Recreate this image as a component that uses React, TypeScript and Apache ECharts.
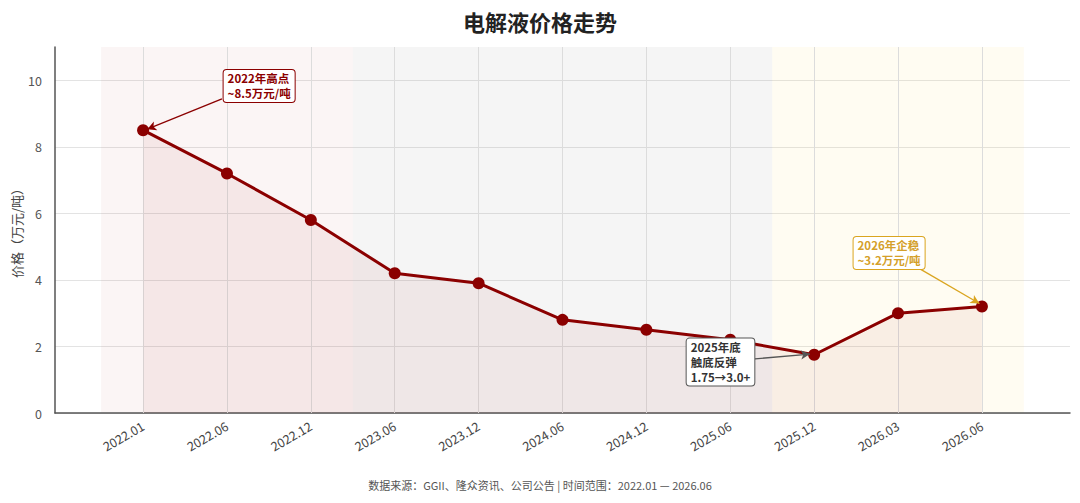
import React, { useEffect, useRef } from "react";
import * as echarts from "echarts";

const categories = ["2022.01", "2022.06", "2022.12", "2023.06", "2023.12", "2024.06", "2024.12", "2025.06", "2025.12", "2026.03", "2026.06"];
const prices = [8.5, 7.2, 5.8, 4.2, 3.9, 2.8, 2.5, 2.2, 1.75, 3.0, 3.2];
const yTicks = [0, 2, 4, 6, 8, 10];
const phases = [
  { from: -0.5, to: 2.5, color: "rgba(190,80,80,0.06)" },
  { from: 2.5, to: 7.5, color: "rgba(120,120,120,0.07)" },
  { from: 7.5, to: 10.5, color: "rgba(250,215,90,0.08)" },
];
const notes = [
  { text: "2022年高点\n~8.5万元/吨", box: [0.96, 9.83], from: [0.94, 9.44], to: [0.05, 8.53], color: "#8B0000", border: "#8B0000", arrow: "#8B0000" },
  { text: "2026年企稳\n~3.2万元/吨", box: [8.47, 4.81], from: [9.24, 4.36], to: [9.97, 3.29], color: "#D4A02A", border: "#DAA520", arrow: "#DAA520" },
  { text: "2025年底\n触底反弹\n1.75→3.0+", box: [6.48, 1.53], from: [7.26, 1.62], to: [7.95, 1.77], color: "#333333", border: "#555555", arrow: "#555555" },
];

export default function App() {
  const ref = useRef<HTMLDivElement>(null);
  useEffect(() => {
    if (!ref.current) return;
    document.body.style.margin = "0";
    const chart = echarts.init(ref.current, null, { renderer: "svg" });
    const font = "'Noto Sans CJK SC', 'Noto Sans', sans-serif";
    chart.setOption({
      animation: false,
      textStyle: { fontFamily: font },
      title: [
        { text: "电解液价格走势", left: "center", top: 5, textStyle: { fontSize: 22, fontWeight: "bold", color: "#222", fontFamily: font } },
        { text: "数据来源：GGII、隆众资讯、公司公告 | 时间范围：2022.01 — 2026.06", left: "center", bottom: 8, textStyle: { fontSize: 11, fontWeight: "normal", color: "#555", fontFamily: font } },
      ],
      grid: { left: 55, right: 10, top: 47, bottom: 90, containLabel: false, outerBoundsMode: "none" },
      xAxis: {
        type: "value",
        min: -1.05,
        max: 11.05,
        axisLine: { show: true, onZero: false, lineStyle: { color: "#555", width: 1.5 } },
        axisTick: { show: false },
        splitLine: { show: false },
        axisLabel: {
          customValues: categories.map((_, i) => i),
          formatter: (v: number) => categories[Math.round(v)] ?? "",
          rotate: 30,
          fontSize: 12.5,
          color: "#444",
          margin: 12,
          fontFamily: font,
        },
      },
      yAxis: {
        type: "value",
        min: 0,
        max: 11,
        interval: 2,
        name: "价格（万元/吨）",
        nameLocation: "middle",
        nameGap: 32,
        nameMoveOverlap: false,
        nameTextStyle: { fontSize: 13, color: "#444", fontFamily: font },
        axisLine: { show: true, onZero: false, lineStyle: { color: "#555", width: 1.5 } },
        axisTick: { show: false },
        axisLabel: {
          customValues: yTicks,
          fontSize: 12.5,
          color: "#555",
          margin: 13,
          fontFamily: font,
        },
        splitLine: { show: true, showMaxLine: false, lineStyle: { color: "#e3e3e3", width: 1 } },
      },
      series: [
        {
          type: "line",
          data: [],
          z: 1,
          silent: true,
          markArea: {
            silent: true,
            z: 0,
            data: phases.map((p) => [{ xAxis: p.from, itemStyle: { color: p.color } }, { xAxis: p.to }]),
          },
          markLine: {
            silent: true,
            z: 1,
            symbol: ["none", "none"],
            label: { show: false },
            lineStyle: { color: "#dcdcdc", width: 1, type: "solid" },
            data: categories.map((_, i) => ({ xAxis: i })),
          },
        },
        {
          type: "line",
          z: 3,
          data: prices.map((v, i) => [i, v]),
          symbol: "circle",
          symbolSize: 12,
          lineStyle: { color: "#8B0000", width: 3 },
          itemStyle: { color: "#8B0000" },
          areaStyle: { color: "rgba(139,0,0,0.08)" },
          markLine: {
            silent: true,
            z: 6,
            label: { show: false },
            symbol: ["none", "arrow"],
            symbolSize: [7, 9],
            data: notes.map((n) => [
              { coord: n.from, lineStyle: { color: n.arrow, width: 1.3, type: "solid" } },
              { coord: n.to },
            ]),
          },
          markPoint: {
            silent: true,
            z: 7,
            symbol: "rect",
            symbolSize: 1,
            itemStyle: { color: "rgba(0,0,0,0)" },
            data: notes.map((n) => ({
              coord: n.box,
              label: {
                show: true,
                position: "inside",
                formatter: n.text,
                color: n.color,
                fontWeight: "bold",
                fontSize: 11.5,
                lineHeight: 15,
                align: "left",
                verticalAlign: "middle",
                backgroundColor: "#fff",
                borderColor: n.border,
                borderWidth: 1,
                borderRadius: 3,
                padding: [1, 4, 1, 4],
                fontFamily: font,
              },
            })),
          },
        },
      ],
    });
    return () => chart.dispose();
  }, []);
  return <div ref={ref} style={{ width: 1080, height: 503 }} />;
}
